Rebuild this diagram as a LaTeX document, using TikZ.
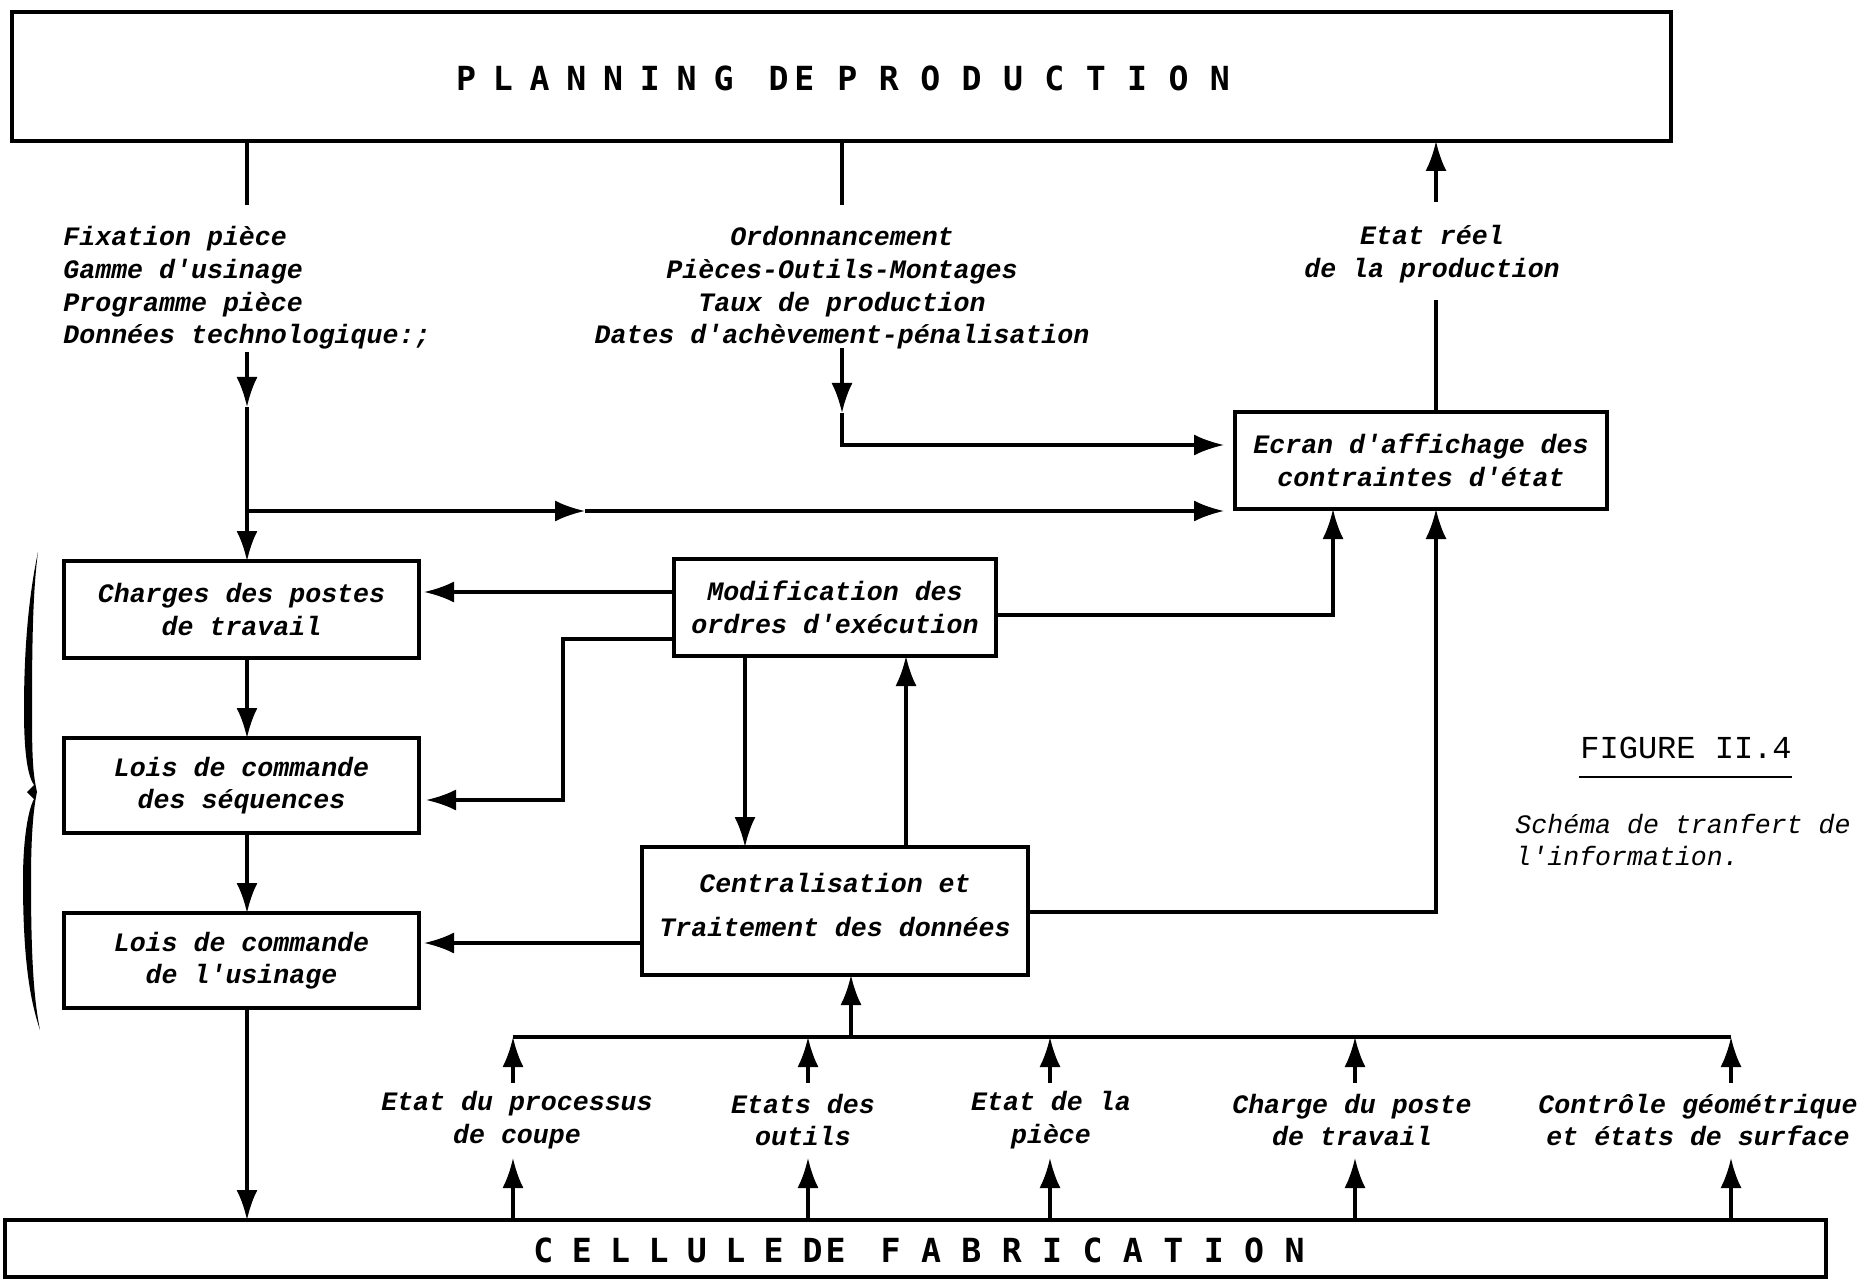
\documentclass[tikz,border=0pt]{standalone}
\usepackage{fontspec}
\setmainfont{Liberation Mono}
\setmonofont{Liberation Mono}
\newfontfamily\figfam{Liberation Mono}
\newfontfamily\ttlfam{DejaVu Sans Mono}
\usetikzlibrary{arrows.meta,calc}
\newcommand\labf{\ttfamily\itshape\bfseries\fontsize{13.3pt}{16.3pt}\selectfont}
\newcommand\caplf{\ttfamily\itshape\mdseries\fontsize{13.3pt}{16.3pt}\selectfont}
\newcommand\ttlf{\ttlfam\upshape\bfseries\fontsize{16.6pt}{20pt}\selectfont}
\newcommand\figf{\figfam\upshape\mdseries\fontsize{16pt}{19pt}\selectfont}
\newcommand\mybox[6]{\node[box, minimum width={(#4-#2)*0.5pt}, minimum height={(#5-#3)*0.5pt}] (#1) at ({(#2+#4)/2},{(#3+#5)/2}) {#6};}
\begin{document}
\begin{tikzpicture}[x=0.5pt,y=-0.5pt,
  box/.style={draw,line width=2pt,inner sep=0pt,align=center,font=\labf},
  conn/.style={line width=1.6pt},
  arr/.style={conn,-{Latex[length=15pt,width=10.5pt]}},
  lab/.style={inner sep=0pt,align=center,font=\labf},
  ttl/.style={inner sep=0pt,font=\ttlf}]
\useasboundingbox (0,0) rectangle (1869,1283);
\fill[white] (0,0) rectangle (1869,1283);

% boxes
\mybox{top}{12}{12}{1671}{141}{}
\node[ttl] (toptitle) at (843,78) {P\kern8.4pt L\kern8.4pt A\kern8.4pt N\kern8.4pt N\kern8.4pt I\kern8.4pt N\kern8.4pt G\kern17.5pt D\kern3pt E\kern11.5pt P\kern10.7pt R\kern10.7pt O\kern10.7pt D\kern10.7pt U\kern10.7pt C\kern10.7pt T\kern10.7pt I\kern10.7pt O\kern10.7pt N};
\mybox{ecran}{1235}{412}{1607}{509}{Ecran d'affichage des\\contraintes d'état}
\mybox{charges}{64}{561}{419}{658}{Charges des postes\\de travail}
\mybox{seq}{64}{738}{419}{833}{Lois de commande\\des séquences}
\mybox{usin}{64}{913}{419}{1008}{Lois de commande\\de l'usinage}
\mybox{modif}{674}{559}{996}{656}{Modification des\\ordres d'exécution}
\node[box, minimum width={386*0.5pt}, minimum height={128*0.5pt}] (central) at (835,911) {};
\node[lab] (centraltext) at (835,905) {Centralisation et\\[6pt]Traitement des données};
\mybox{cell}{5}{1220}{1826}{1277}{}
\node[ttl] (celltitle) at (919,1250) {C\kern9.2pt E\kern9.2pt L\kern9.2pt L\kern9.2pt U\kern9.2pt L\kern9.2pt E\kern9.5pt D\kern1.5pt E\kern17.5pt F\kern10.2pt A\kern10.2pt B\kern10.2pt R\kern10.2pt I\kern10.2pt C\kern10.2pt A\kern10.2pt T\kern10.2pt I\kern10.2pt O\kern10.2pt N};

% labels
\node[lab,align=left,anchor=west] (lt) at (63,288) {Fixation pièce\\Gamme d'usinage\\Programme pièce\\Données technologique:;};
\node[lab] (mt) at (842,288) {Ordonnancement\\Pièces-Outils-Montages\\Taux de production\\Dates d'achèvement-pénalisation};
\node[lab] (rt) at (1432,254) {Etat réel\\de la production};
\node[lab] (b1) at (517,1120) {Etat du processus\\de coupe};
\node[lab] (b2) at (803,1120) {Etats des\\outils};
\node[lab] (b3) at (1051,1120) {Etat de la\\pièce};
\node[lab] (b4) at (1352,1120) {Charge du poste\\de travail};
\node[lab] (b5) at (1698,1120) {Contrôle géométrique\\et états de surface};
\node[font=\figf,inner sep=0pt,anchor=west] (fig) at (1580,748) {FIGURE II.4};
\draw[line width=0.9pt] (1579,777) -- (1792,777);
\node[lab,font=\caplf,align=left,anchor=west] (cap) at (1515,840) {Schéma de tranfert de\\l'information.};

% left column
\draw[conn] (247,141) -- (247,205);
\draw[arr] (247,352) -- (247,407);
\draw[arr] (247,407) -- (247,561);
\draw[arr] (247,511) -- (585,511);
\draw[arr] (585,511) -- (1224,511);
\draw[arr] (247,658) -- (247,738);
\draw[arr] (247,833) -- (247,913);
\draw[arr] (247,1008) -- (247,1220);

% middle column
\draw[conn] (842,141) -- (842,205);
\draw[arr] (842,348) -- (842,413);
\draw[arr] (842,413) -- (842,445) -- (1224,445);

% right column
\draw[conn] (1436,412) -- (1436,300);
\draw[arr] (1436,202) -- (1436,141);

% modification / centralisation
\draw[arr] (674,592) -- (424,592);
\draw[arr] (674,639) -- (563,639) -- (563,800) -- (426,800);
\draw[arr] (996,615) -- (1333,615) -- (1333,509);
\draw[arr] (745,656) -- (745,847);
\draw[arr] (906,847) -- (906,656);
\draw[arr] (642,943) -- (424,943);
\draw[arr] (1028,912) -- (1436,912) -- (1436,509);

% bus
\draw[conn] (513,1037) -- (1731,1037);
\draw[arr] (851,1037) -- (851,975);
\foreach \x in {513,808,1050,1355,1731} {
  \draw[arr] (\x,1083) -- (\x,1037);
  \draw[arr] (\x,1220) -- (\x,1158);
}

% brace
\fill (38,552) .. controls (30,590) and (24,640) .. (24,710)
  .. controls (24,760) and (29,778) .. (34,785) -- (27,792) -- (34,799)
  .. controls (28,810) and (23,840) .. (23,880)
  .. controls (23,960) and (30,1000) .. (40,1030)
  .. controls (34,1000) and (31,960) .. (31,880)
  .. controls (31,840) and (33,810) .. (37,792)
  .. controls (33,774) and (32,760) .. (32,710)
  .. controls (32,640) and (33,590) .. (38,552) -- cycle;
\end{tikzpicture}
\end{document}
